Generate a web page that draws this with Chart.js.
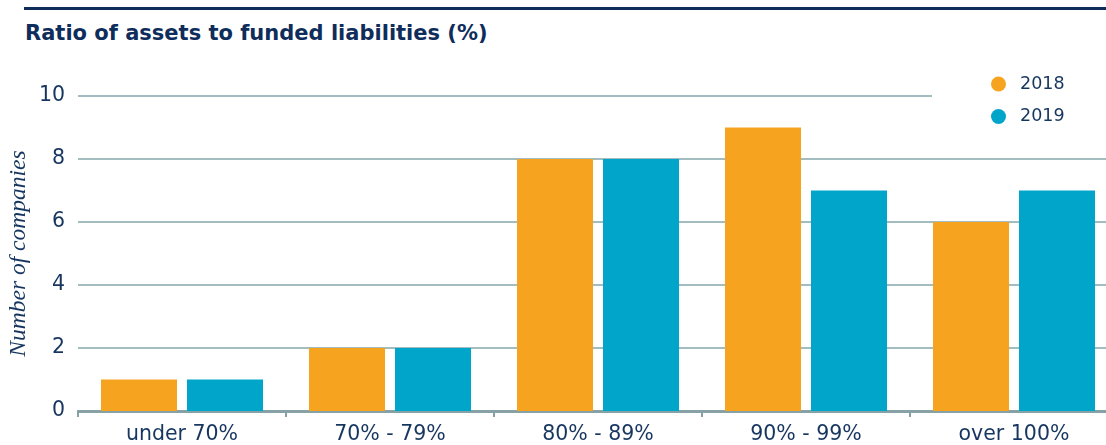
<!DOCTYPE html>
<html>
<head>
<meta charset="utf-8">
<script src="https://cdn.jsdelivr.net/npm/chart.js@4/dist/chart.umd.min.js"></script>
<style>
  html, body { margin: 0; padding: 0; background: #ffffff; overflow: hidden; }
  #wrap { position: relative; width: 1106px; height: 445px; overflow: hidden; }
  #rule { position: absolute; left: 24px; top: 7px; width: 1082px; height: 3px; background: #0f2d5b; }
  #title { position: absolute; left: 25px; top: 21px; margin: 0; line-height: 26px;
           font: bold 21px 'DejaVu Sans', sans-serif; color: #0f2d5b; white-space: nowrap; }
  #c { position: absolute; left: 0; top: 0; }
</style>
</head>
<body>
<div id="wrap">
  <div id="rule"></div>
  <h1 id="title">Ratio of assets to funded liabilities (%)</h1>
  <canvas id="c" width="1120" height="445"></canvas>
</div>
<script>
// Funding ratio bands and the number of companies in each
const categories = ['under 70%', '70% - 79%', '80% - 89%', '90% - 99%', 'over 100%'];
const seriesNames = ['2018', '2019'];
const companies2018 = [1, 2, 8, 9, 6];
const companies2019 = [1, 2, 8, 7, 7];
const yTicks = [0, 2, 4, 6, 8, 10];
const yTitle = 'Number of companies';

const NAVY = '#16365f';
const ORANGE = '#f6a41f';
const TEAL = '#00a5c9';
const GRID = '#a3bcc0';
const AXIS = '#86a2a6';
const TEXT_FONT = "'DejaVu Sans', sans-serif";

// Horizontal guide lines; the top one stops short to leave room for the key
const guideLines = {
  id: 'guideLines',
  beforeDatasetsDraw(chart) {
    const { ctx, chartArea, scales: { y } } = chart;
    ctx.save();
    ctx.strokeStyle = GRID;
    ctx.lineWidth = 2;
    yTicks.forEach(v => {
      if (v === 0) return;
      const py = Math.round(y.getPixelForValue(v));
      const x2 = v === y.max ? 932 : chartArea.right;
      ctx.beginPath();
      ctx.moveTo(chartArea.left, py);
      ctx.lineTo(x2, py);
      ctx.stroke();
    });
    ctx.restore();
  }
};

// Key with round markers in the upper right corner
const dotKey = {
  id: 'dotKey',
  afterDraw(chart) {
    const { ctx } = chart;
    ctx.save();
    chart.data.datasets.forEach((ds, i) => {
      const cy = 84 + i * 32.5;
      ctx.fillStyle = ds.backgroundColor;
      ctx.beginPath();
      ctx.arc(998.5, cy, 7.5, 0, Math.PI * 2);
      ctx.fill();
      ctx.fillStyle = NAVY;
      ctx.font = "17.5px " + TEXT_FONT;
      ctx.textBaseline = 'middle';
      ctx.textAlign = 'left';
      ctx.fillText(ds.label, 1020, cy);
    });
    ctx.restore();
  }
};

new Chart(document.getElementById('c'), {
  type: 'bar',
  data: {
    labels: categories,
    datasets: [
      { label: seriesNames[0], data: companies2018, backgroundColor: ORANGE },
      { label: seriesNames[1], data: companies2019, backgroundColor: TEAL }
    ]
  },
  options: {
    responsive: false,
    animation: false,
    devicePixelRatio: 1,
    layout: { padding: { top: 96, left: 0, right: 2, bottom: 0 } },
    datasets: { bar: { categoryPercentage: 0.827, barPercentage: 0.884 } },
    plugins: { legend: { display: false }, tooltip: { enabled: false } },
    scales: {
      x: {
        grid: { drawOnChartArea: false, offset: true, tickLength: 6, color: AXIS, lineWidth: 2 },
        border: { color: AXIS, width: 3 },
        ticks: { color: NAVY, font: { family: TEXT_FONT, size: 20.5 }, padding: 5, maxRotation: 0 },
        afterFit(scale) { scale.height = 34; }
      },
      y: {
        min: 0, max: 10,
        afterBuildTicks(scale) { scale.ticks = yTicks.map(v => ({ value: v })); },
        grid: { display: false, drawTicks: false },
        border: { display: false },
        ticks: { color: NAVY, font: { family: TEXT_FONT, size: 20.5 }, padding: 13 },
        title: {
          display: true, text: yTitle, color: NAVY,
          font: { family: "'Liberation Serif', serif", style: 'italic', size: 23.5 },
          padding: { top: 5, bottom: 0 }
        },
        afterFit(scale) { scale.width = 78; }
      }
    }
  },
  plugins: [guideLines, dotKey]
});
</script>
</body>
</html>
